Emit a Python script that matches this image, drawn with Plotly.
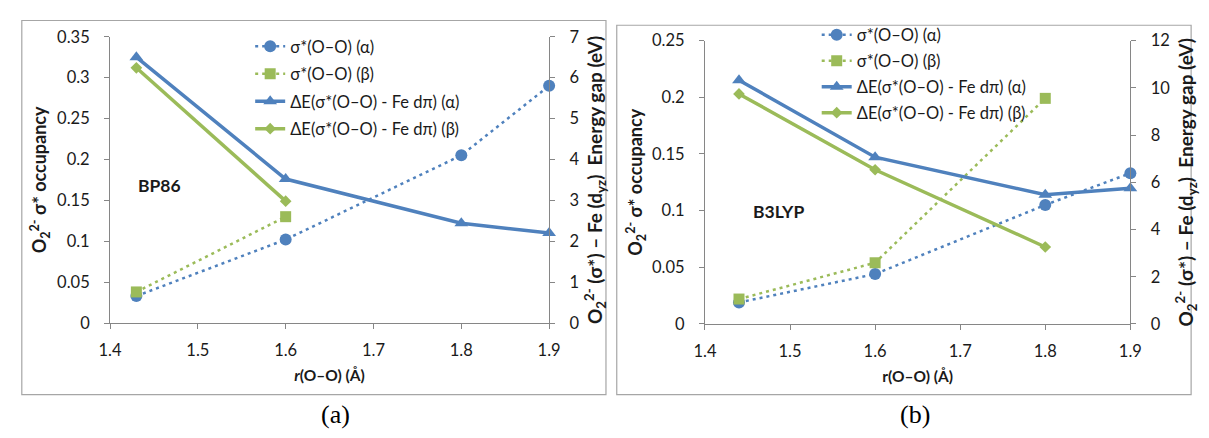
import plotly.graph_objects as go

W, H = 1209, 438

# ---------------- data ----------------
# (a) BP86
bp_x_occ_a = [1.43, 1.6, 1.8, 1.9]
bp_occ_a = [0.033, 0.102, 0.205, 0.290]
bp_x_occ_b = [1.43, 1.6]
bp_occ_b = [0.038, 0.130]
bp_x_gap_a = [1.43, 1.6, 1.8, 1.9]
bp_gap_a = [6.50, 3.52, 2.44, 2.20]
bp_x_gap_b = [1.43, 1.6]
bp_gap_b = [6.24, 2.98]

# (b) B3LYP
b3_x_occ_a = [1.44, 1.6, 1.8, 1.9]
b3_occ_a = [0.019, 0.044, 0.105, 0.133]
b3_x_occ_b = [1.44, 1.6, 1.8]
b3_occ_b = [0.022, 0.054, 0.199]
b3_x_gap_a = [1.44, 1.6, 1.8, 1.9]
b3_gap_a = [10.32, 7.06, 5.47, 5.75]
b3_x_gap_b = [1.44, 1.6, 1.8]
b3_gap_b = [9.74, 6.53, 3.26]

series_names = ["σ*(O–O) (α)", "σ*(O–O) (β)",
                "ΔE(σ*(O–O) - Fe dπ) (α)", "ΔE(σ*(O–O) - Fe dπ) (β)"]

x_ticks = [1.4, 1.5, 1.6, 1.7, 1.8, 1.9]
x_ticktext = ["1.4", "1.5", "1.6", "1.7", "1.8", "1.9"]
bp_occ_ticks = [0, 0.05, 0.1, 0.15, 0.2, 0.25, 0.3, 0.35]
bp_occ_ticktext = ["0", "0.05", "0.1", "0.15", "0.2", "0.25", "0.3", "0.35"]
bp_gap_ticks = [0, 1, 2, 3, 4, 5, 6, 7]
bp_gap_ticktext = ["0", "1", "2", "3", "4", "5", "6", "7"]
b3_occ_ticks = [0, 0.05, 0.1, 0.15, 0.2, 0.25]
b3_occ_ticktext = ["0", "0.05", "0.1", "0.15", "0.2", "0.25"]
b3_gap_ticks = [0, 2, 4, 6, 8, 10, 12]
b3_gap_ticktext = ["0", "2", "4", "6", "8", "10", "12"]

# ---------------- style ----------------
BLUE = "#4F81BD"
GREEN = "#9BBB59"
AX = "#868686"
FONT = "Lato"
TXT = "#1a1a1a"
DOT = "3px,4px"


def px_x(p):
    return p / W


def px_y(p):
    return 1 - p / H


fig = go.Figure()


def add_panel(xo_a, yo_a, xo_b, yo_b, xg_a, yg_a, xg_b, yg_b, xa, ya, ya2, leg):
    fig.add_trace(go.Scatter(x=xo_a, y=yo_a, name=series_names[0], mode="lines+markers",
                             line=dict(color=BLUE, width=2.5, dash=DOT),
                             marker=dict(symbol="circle", size=12, color=BLUE),
                             xaxis=xa, yaxis=ya, legend=leg, legendgroup=leg + "1",
                             cliponaxis=False))
    fig.add_trace(go.Scatter(x=xo_b, y=yo_b, name=series_names[1], mode="lines+markers",
                             line=dict(color=GREEN, width=2.5, dash=DOT),
                             marker=dict(symbol="square", size=11, color=GREEN),
                             xaxis=xa, yaxis=ya, legend=leg, legendgroup=leg + "2",
                             cliponaxis=False))
    fig.add_trace(go.Scatter(x=xg_a, y=yg_a, name=series_names[2], mode="lines+markers",
                             line=dict(color=BLUE, width=3.5),
                             marker=dict(symbol="triangle-up", size=12, color=BLUE),
                             xaxis=xa, yaxis=ya2, legend=leg, legendgroup=leg + "3",
                             cliponaxis=False))
    fig.add_trace(go.Scatter(x=xg_b, y=yg_b, name=series_names[3], mode="lines+markers",
                             line=dict(color=GREEN, width=3.5),
                             marker=dict(symbol="diamond", size=9, color=GREEN),
                             xaxis=xa, yaxis=ya2, legend=leg, legendgroup=leg + "4",
                             cliponaxis=False))


add_panel(bp_x_occ_a, bp_occ_a, bp_x_occ_b, bp_occ_b, bp_x_gap_a, bp_gap_a,
          bp_x_gap_b, bp_gap_b, "x", "y", "y2", "legend")
add_panel(b3_x_occ_a, b3_occ_a, b3_x_occ_b, b3_occ_b, b3_x_gap_a, b3_gap_a,
          b3_x_gap_b, b3_gap_b, "x2", "y3", "y4", "legend2")

tickfont = dict(family=FONT, size=16.5, color=TXT)
xtitlefont = dict(family=FONT, size=15.5, color=TXT)
occ_titlefont = dict(family=FONT, size=18, color=TXT)
gap_titlefont = dict(family=FONT, size=19, color=TXT)

common_x = dict(range=[1.4, 1.9], tickvals=x_ticks, ticktext=x_ticktext,
                showline=True, linecolor=AX, linewidth=1, ticks="outside",
                tickcolor=AX, ticklen=5, showgrid=False, zeroline=False,
                ticklabelstandoff=7,
                tickfont=tickfont, title_font=xtitlefont, title_standoff=11)
common_y = dict(showline=True, linecolor=AX, linewidth=1, ticks="outside",
                tickcolor=AX, ticklen=5, showgrid=False, zeroline=False,
                tickfont=tickfont, ticklabelstandoff=11)

occ_title = "<b>O<sub>2</sub><sup>2-</sup> σ* occupancy</b>"
gap_title = "<b>O<sub>2</sub><sup>2-</sup> (σ*) – Fe (d<sub>yz</sub>)  Energy gap (eV)</b>"

legfont = dict(family=FONT, size=16.5, color=TXT)

fig.update_layout(
    width=W, height=H, margin=dict(l=0, r=0, t=0, b=0),
    paper_bgcolor="white", plot_bgcolor="white", showlegend=True,
    font=dict(family=FONT, color=TXT),
    xaxis=dict(domain=[px_x(100), px_x(548)], anchor="y",
               title_text="<b><i>r</i>(O–O) (Å)</b>", **common_x),
    yaxis=dict(domain=[px_y(328), px_y(28)], anchor="x", range=[0, 0.35],
               tickvals=bp_occ_ticks, ticktext=bp_occ_ticktext,
               title_text=occ_title, title_font=occ_titlefont, title_standoff=5, **common_y),
    yaxis2=dict(overlaying="y", anchor="x", side="right", range=[0, 7],
                tickvals=bp_gap_ticks, ticktext=bp_gap_ticktext,
                title_text=gap_title, title_font=gap_titlefont, title_standoff=10, **common_y),
    xaxis2=dict(domain=[px_x(707), px_x(1141)], anchor="y3",
                title_text="<b>r(O–O) (Å)</b>", **common_x),
    yaxis3=dict(domain=[px_y(329), px_y(32)], anchor="x2", range=[0, 0.25],
                tickvals=b3_occ_ticks, ticktext=b3_occ_ticktext,
                title_text=occ_title, title_font=occ_titlefont, title_standoff=4, **common_y),
    yaxis4=dict(overlaying="y3", anchor="x2", side="right", range=[0, 12],
                tickvals=b3_gap_ticks, ticktext=b3_gap_ticktext,
                title_text=gap_title, title_font=gap_titlefont, title_standoff=10, **common_y),
    legend=dict(x=px_x(243), y=px_y(20), xanchor="left", yanchor="top",
                font=legfont, bgcolor="rgba(0,0,0,0)",
                tracegroupgap=3, itemwidth=30),
    legend2=dict(x=px_x(821), y=px_y(8), xanchor="left", yanchor="top",
                 font=legfont, bgcolor="rgba(0,0,0,0)",
                 tracegroupgap=1.5, itemwidth=30),
)

# panel frames
fig.add_shape(type="rect", xref="paper", yref="paper",
              x0=px_x(10), x1=px_x(606), y0=px_y(403), y1=px_y(11),
              line=dict(color="#A6A6A6", width=1.2), layer="below")
fig.add_shape(type="rect", xref="paper", yref="paper",
              x0=px_x(617), x1=px_x(1203), y0=px_y(403), y1=px_y(16),
              line=dict(color="#A6A6A6", width=1.2), layer="below")

# panel labels
fig.add_annotation(text="<b>BP86</b>", xref="paper", yref="paper",
                   x=px_x(127), y=px_y(184), xanchor="left", yanchor="middle",
                   showarrow=False, font=dict(family=FONT, size=17.5, color=TXT))
fig.add_annotation(text="<b>B3LYP</b>", xref="paper", yref="paper",
                   x=px_x(754), y=px_y(211), xanchor="left", yanchor="middle",
                   showarrow=False, font=dict(family=FONT, size=17.5, color=TXT))

# captions
fig.add_annotation(text="(a)", xref="paper", yref="paper",
                   x=px_x(330), y=px_y(424), xanchor="center", yanchor="middle",
                   showarrow=False, font=dict(family="Liberation Serif", size=26, color="black"))
fig.add_annotation(text="(b)", xref="paper", yref="paper",
                   x=px_x(921), y=px_y(424), xanchor="center", yanchor="middle",
                   showarrow=False, font=dict(family="Liberation Serif", size=26, color="black"))

fig.write_html("out.html")
